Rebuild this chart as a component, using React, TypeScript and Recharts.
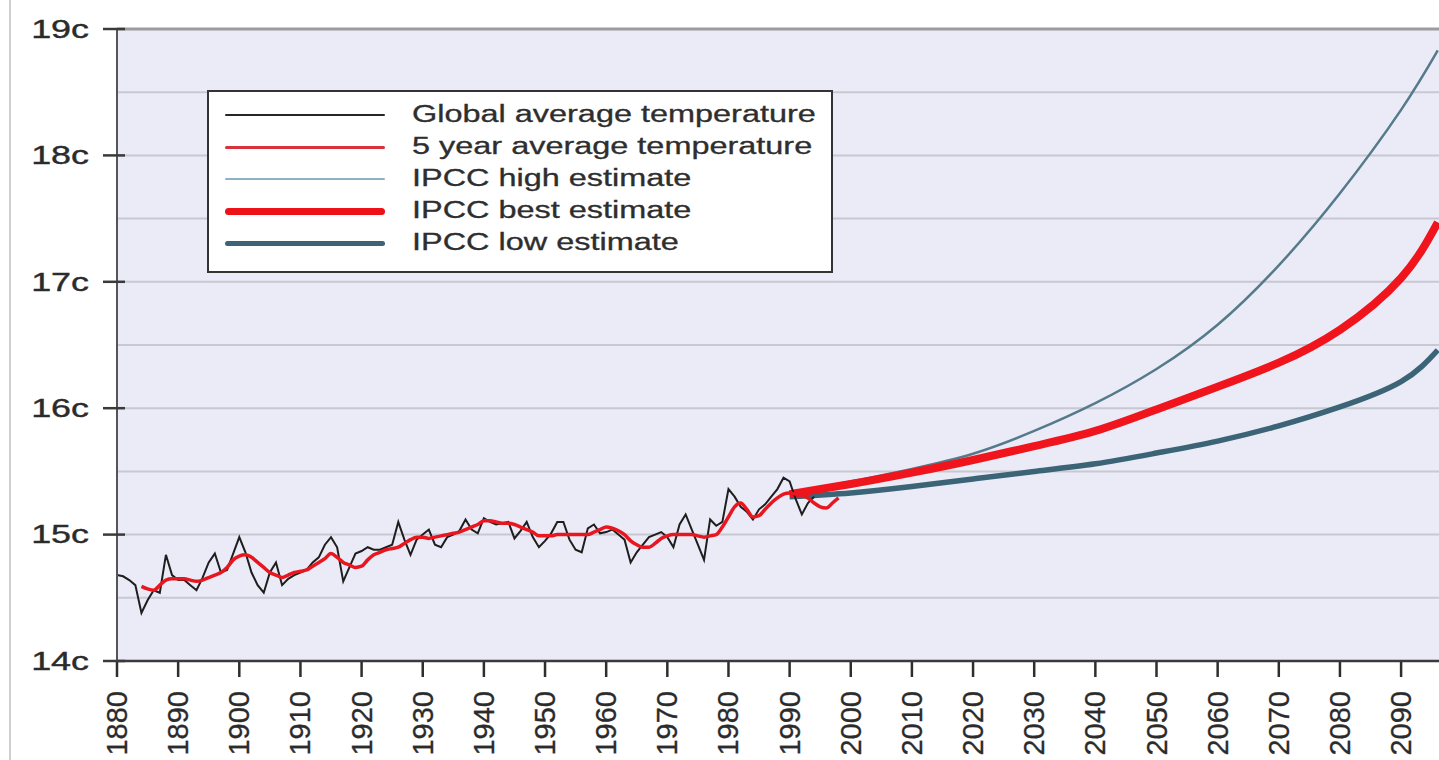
import React from 'react';
import { LineChart, Line, XAxis, YAxis, CartesianGrid, ReferenceLine } from 'recharts';

// annual global average temperature, 1880 onwards
const globalStartYear = 1880;
const globalTemps = [
  14.68, 14.67, 14.64, 14.6, 14.38, 14.48, 14.56, 14.54, 14.84, 14.68,
  14.64, 14.64, 14.6, 14.56, 14.66, 14.78, 14.85, 14.7, 14.72, 14.85,
  14.98, 14.86, 14.7, 14.6, 14.54, 14.7, 14.78, 14.6, 14.65, 14.68,
  14.7, 14.72, 14.78, 14.82, 14.92, 14.98, 14.9, 14.63, 14.74, 14.85,
  14.87, 14.9, 14.88, 14.88, 14.9, 14.92, 15.1, 14.96, 14.84, 14.96,
  15.0, 15.04, 14.92, 14.9, 14.98, 15.0, 15.03, 15.12, 15.04, 15.01,
  15.13, 15.1, 15.08, 15.09, 15.1, 14.97, 15.03, 15.1, 14.98, 14.9,
  14.95, 15.01, 15.1, 15.1, 14.96, 14.88, 14.86, 15.05, 15.08, 15.01,
  15.02, 15.04, 15.0, 14.96, 14.78, 14.86, 14.92, 14.98, 15.0, 15.02,
  14.98, 14.9, 15.08, 15.16, 15.04, 14.92, 14.8, 15.12, 15.07, 15.1,
  15.36, 15.3, 15.22, 15.18, 15.12, 15.2, 15.24, 15.3, 15.36, 15.45,
  15.42, 15.28, 15.16, 15.25, 15.3,
];

// 5 year running average, 1884 onwards
const fiveYearStartYear = 1884;
const fiveYearTemps = [
  14.59, 14.57, 14.56, 14.6, 14.64, 14.65,
  14.65, 14.65, 14.64, 14.63, 14.64, 14.66, 14.68, 14.7, 14.74, 14.8,
  14.83, 14.84, 14.82, 14.78, 14.74, 14.7, 14.68, 14.66, 14.68, 14.7,
  14.71, 14.72, 14.75, 14.78, 14.81, 14.85, 14.82, 14.78, 14.76, 14.74,
  14.75, 14.8, 14.84, 14.86, 14.88, 14.89, 14.9, 14.93, 14.96, 14.98,
  14.98, 14.97, 14.98, 14.99, 15.0, 15.01, 15.02, 15.04, 15.06, 15.08,
  15.11, 15.11, 15.1, 15.09, 15.09, 15.08, 15.06, 15.04, 15.02, 14.99,
  14.99, 14.99, 15.0, 15.0, 15.0, 15.0, 15.0, 15.0, 15.02, 15.04,
  15.06, 15.05, 15.03, 15.0, 14.95, 14.92, 14.9, 14.9, 14.93, 14.97,
  14.99, 15.0, 15.0, 15.0, 15.0, 14.99, 14.98, 14.99, 15.0, 15.06,
  15.14, 15.22, 15.25, 15.2, 15.14, 15.15, 15.2, 15.25, 15.29, 15.32,
  15.33, 15.32, 15.31, 15.29, 15.25, 15.22, 15.21, 15.25, 15.29,
];

const projectionYears = [1990, 2000, 2010, 2020, 2030, 2040, 2050, 2060, 2070, 2080, 2090, 2096];
const highEstimate = [15.33, 15.42, 15.52, 15.64, 15.82, 16.04, 16.31, 16.66, 17.13, 17.7, 18.36, 18.83];
const bestEstimate = [15.32, 15.4, 15.49, 15.59, 15.7, 15.82, 15.99, 16.17, 16.36, 16.62, 17.03, 17.47];
const lowEstimate = [15.3, 15.33, 15.38, 15.44, 15.5, 15.56, 15.645, 15.74, 15.86, 16.01, 16.21, 16.46];

const xTicks = [1880, 1890, 1900, 1910, 1920, 1930, 1940, 1950, 1960, 1970, 1980, 1990, 2000, 2010, 2020, 2030, 2040, 2050, 2060, 2070, 2080, 2090];
const yTicks = [14, 14.5, 15, 15.5, 16, 16.5, 17, 17.5, 18, 18.5, 19];

const legendItems = [
  { name: 'Global average temperature', color: '#262626', width: 2 },
  { name: '5 year average temperature', color: '#d8323c', width: 3 },
  { name: 'IPCC high estimate', color: '#8cb2c4', width: 2.5 },
  { name: 'IPCC best estimate', color: '#ee1118', width: 7 },
  { name: 'IPCC low estimate', color: '#3b6476', width: 5 },
];

type Row = { year: number; global?: number; fiveYear?: number; high?: number; best?: number; low?: number };

const buildData = (): Row[] => {
  const rows = new Map<number, Row>();
  const get = (year: number) => {
    if (!rows.has(year)) rows.set(year, { year });
    return rows.get(year)!;
  };
  globalTemps.forEach((t, i) => { get(globalStartYear + i).global = t; });
  fiveYearTemps.forEach((t, i) => { get(fiveYearStartYear + i).fiveYear = t; });
  projectionYears.forEach((y, i) => {
    const r = get(y);
    r.high = highEstimate[i];
    r.best = bestEstimate[i];
    r.low = lowEstimate[i];
  });
  return Array.from(rows.values()).sort((a, b) => a.year - b.year);
};

const data = buildData();
const FONT = '"Liberation Sans", Arial, sans-serif';

const YTick = (props: any) => {
  const { y, payload } = props;
  const v = payload.value;
  if (!Number.isInteger(v)) return <g />;
  return (
    <g>
      <line x1={103} x2={125} y1={y} y2={y} stroke="#3a3a3a" strokeWidth={2.5} />
      <text
        transform={`translate(89 ${y}) scale(1.38 1)`}
        textAnchor="end"
        dominantBaseline="central"
        fontSize={26}
        fontFamily={FONT}
        fill="#2b2b2b"
        stroke="#2b2b2b"
        strokeWidth={0.4}
      >
        {`${v}c`}
      </text>
    </g>
  );
};

const XTick = (props: any) => {
  const { x, y, payload } = props;
  return (
    <g>
      <line x1={x} x2={x} y1={y - 7} y2={y + 8} stroke="#2e2e2e" strokeWidth={2.5} />
      <text
        transform={`translate(${x} ${y + 22}) rotate(-90)`}
        textAnchor="end"
        dominantBaseline="central"
        fontSize={29}
        fontFamily={FONT}
        fill="#2b2b2b"
        stroke="#2b2b2b"
        strokeWidth={0.3}
      >
        {payload.value}
      </text>
    </g>
  );
};

const LegendBox = () => (
  <div
    style={{
      position: 'absolute',
      left: 207,
      top: 90,
      width: 626,
      height: 183,
      boxSizing: 'border-box',
      border: '2px solid #333',
      background: '#fff',
      fontFamily: FONT,
    }}
  >
    {legendItems.map((item, i) => {
      const rowY = 23 + i * 32;
      return (
        <React.Fragment key={item.name}>
          <div
            style={{
              position: 'absolute',
              left: 16,
              top: rowY - item.width / 2,
              width: 160,
              height: item.width,
              background: item.color,
              borderRadius: item.width / 2,
            }}
          />
          <span
            style={{
              position: 'absolute',
              left: 203,
              top: rowY - 12,
              fontSize: 23,
              lineHeight: 1,
              color: '#2e2e2e',
              whiteSpace: 'nowrap',
              transform: 'scaleX(1.41)',
              transformOrigin: 'left center',
              WebkitTextStroke: '0.3px #2e2e2e',
            }}
          >
            {item.name}
          </span>
        </React.Fragment>
      );
    })}
  </div>
);

export default function App() {
  return (
    <div style={{ position: 'absolute', left: 0, top: 0, width: 1439, height: 760, background: '#fff' }}>
      <div style={{ position: 'absolute', left: 9, top: 0, width: 2, height: 760, background: '#cfcfcf' }} />
      <LineChart width={1439} height={760} data={data} margin={{ top: 29, right: 0, left: 0, bottom: 0 }}>
        <CartesianGrid vertical={false} stroke="#c8c8d2" strokeWidth={2} fill="#ebebf7" />
        <XAxis
          dataKey="year"
          type="number"
          domain={[1880, 2096.2]}
          ticks={xTicks}
          interval={0}
          height={99}
          tickLine={false}
          axisLine={{ stroke: '#3a3a3a', strokeWidth: 2.5 }}
          tick={<XTick />}
        />
        <YAxis
          type="number"
          domain={[14, 19]}
          ticks={yTicks}
          interval={0}
          width={117}
          tickLine={false}
          axisLine={{ stroke: '#555', strokeWidth: 2 }}
          tick={<YTick />}
        />
        <ReferenceLine y={19} stroke="#9c9c9c" strokeWidth={3} />
        <Line type="natural" dataKey="low" stroke="#3b6476" strokeWidth={5.5} dot={false} connectNulls isAnimationActive={false} />
        <Line type="natural" dataKey="high" stroke="#557a8b" strokeWidth={2.5} dot={false} connectNulls isAnimationActive={false} />
        <Line type="natural" dataKey="best" stroke="#f0141c" strokeWidth={8} dot={false} connectNulls isAnimationActive={false} />
        <Line type="linear" dataKey="global" stroke="#1e1e1e" strokeWidth={2} dot={false} connectNulls isAnimationActive={false} />
        <Line type="monotone" dataKey="fiveYear" stroke="#e8171f" strokeWidth={3.5} dot={false} connectNulls isAnimationActive={false} />
      </LineChart>
      <LegendBox />
    </div>
  );
}
